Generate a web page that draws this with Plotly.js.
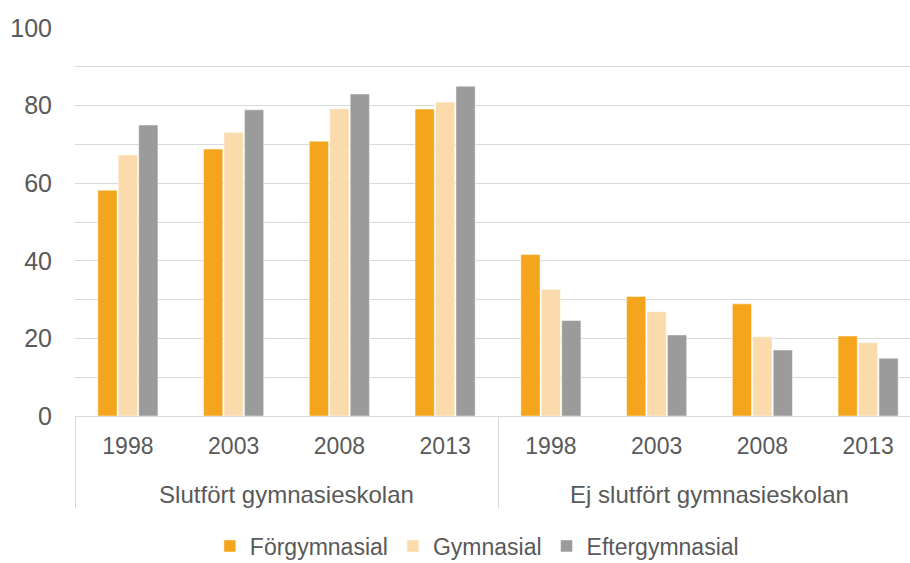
<!DOCTYPE html>
<html><head><meta charset="utf-8">
<script src="https://cdn.plot.ly/plotly-3.0.1.min.js"></script>
<style>html,body{margin:0;padding:0;overflow:hidden;background:#fff}</style>
</head><body>
<div id="chart" style="width:921px;height:563px"></div>
<script>
const groups = ["Slutfört gymnasieskolan","Slutfört gymnasieskolan","Slutfört gymnasieskolan","Slutfört gymnasieskolan",
                "Ej slutfört gymnasieskolan","Ej slutfört gymnasieskolan","Ej slutfört gymnasieskolan","Ej slutfört gymnasieskolan"];
const years = ["1998","2003","2008","2013","1998","2003","2008","2013"];
const seriesNames = ["Förgymnasial","Gymnasial","Eftergymnasial"];
const forgymnasial   = [58.2, 68.8, 70.8, 79.1, 41.6, 30.8, 28.9, 20.6];
const gymnasial      = [67.3, 73.1, 79.2, 80.9, 32.6, 26.9, 20.4, 18.9];
const eftergymnasial = [75.0, 78.9, 83.0, 85.0, 24.6, 20.9, 17.0, 14.9];
const colors = ["#F4A51B","#FBDBAC","#9B9B9B"];
const vals = [forgymnasial, gymnasial, eftergymnasial];

// extra blank line under each year label to push the group level lower
const yearLabels = years.map(y => y + "<br>\u00a0");
const groupLabels = groups.map(g => '<span style="font-size:24px">' + g + '</span>');

const traces = vals.map((v,i)=>({
  type:"bar", name: seriesNames[i], x:[groupLabels, yearLabels], y:v,
  marker:{color:colors[i], line:{color:"rgba(255,255,255,0.6)", width:0.8}},
  hoverinfo:"none"
}));

const fam = "Liberation Sans, Arial, sans-serif";
const layout = {
  width:921, height:563,
  margin:{l:75, r:0, t:28, b:147, autoexpand:false},
  paper_bgcolor:"#fff", plot_bgcolor:"#fff",
  font:{family:fam, color:"#595959", size:23},
  barmode:"group", bargap:0.42, bargroupgap:0.06,
  showlegend:true,
  legend:{orientation:"h", x:0.475, xanchor:"center", y:-0.335, yanchor:"middle",
          font:{family:fam, size:23, color:"#595959"}, itemwidth:30, tracegroupgap:0},
  xaxis:{type:"multicategory", automargin:false, showline:true, linecolor:"#D9D9D9", linewidth:1,
         showgrid:false, ticks:"", showdividers:true, dividercolor:"#D9D9D9", dividerwidth:1,
         ticklabelstandoff:9, tickfont:{family:fam, size:23, color:"#595959"}},
  yaxis:{range:[0,100], dtick:20, tick0:0, automargin:false, showgrid:true, gridcolor:"#D9D9D9", gridwidth:1,
         minor:{dtick:10, showgrid:true, gridcolor:"#D9D9D9", gridwidth:1},
         zeroline:false, ticks:"", ticklabelstandoff:22, tickfont:{family:fam, size:25, color:"#595959"}}
};
Plotly.newPlot("chart", traces, layout, {staticPlot:true, displayModeBar:false});
</script>
</body></html>
